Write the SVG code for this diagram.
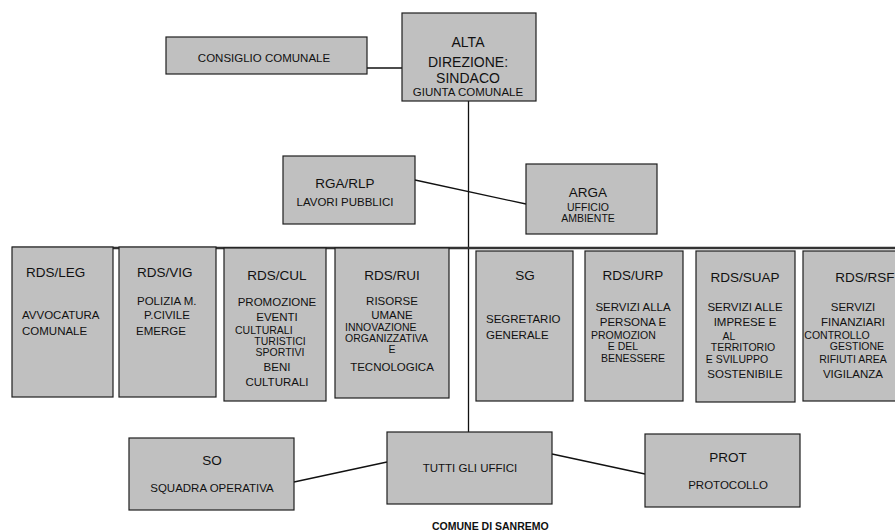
<svg xmlns="http://www.w3.org/2000/svg" width="895" height="532" viewBox="0 0 895 532">
<style>
.box{fill:#c0c0c0;stroke:#1e1e1e;stroke-width:1.2}
text{font-family:"Liberation Sans",Arial,sans-serif;fill:#111}
.t{font-size:13.5px;text-anchor:middle}
.ts{font-size:13.5px}
.b{font-size:11.5px;text-anchor:middle}
.bs{font-size:11.5px}
.c{font-size:10.5px;text-anchor:middle}
.cs{font-size:10.5px}
.ln{stroke:#111;fill:none;stroke-width:1.3}
</style>
<rect width="895" height="532" fill="#fff"/>
<g id="connectors">
<line class="ln" x1="367" y1="68" x2="402" y2="68" stroke-width="3.5"/>
<line class="ln" x1="468.5" y1="101" x2="468.5" y2="432" stroke-width="1.6"/>
<line class="ln" x1="415" y1="180" x2="526" y2="204"/>
<line x1="12" y1="248" x2="895" y2="248" stroke="#333" stroke-width="2.6"/>
<line class="ln" x1="294" y1="482" x2="387" y2="462"/>
<line class="ln" x1="552" y1="454" x2="645" y2="474"/>
</g>
<g id="consiglio">
<rect class="box" x="166" y="37" width="201" height="37"/>
<text class="b" x="264" y="62">CONSIGLIO COMUNALE</text>
</g>
<g id="alta">
<rect class="box" x="402" y="13" width="134" height="88"/>
<text x="468" y="47" font-size="14" text-anchor="middle">ALTA</text>
<text x="468" y="67" font-size="14" text-anchor="middle">DIREZIONE:</text>
<text x="468" y="83" font-size="14" text-anchor="middle">SINDACO</text>
<text class="b" x="468" y="96">GIUNTA COMUNALE</text>
</g>
<g id="rga">
<rect class="box" x="283" y="156" width="132" height="68"/>
<text class="t" x="345" y="188">RGA/RLP</text>
<text class="b" x="345" y="206">LAVORI PUBBLICI</text>
</g>
<g id="arga">
<rect class="box" x="526" y="164" width="131" height="70"/>
<text class="t" x="588" y="197">ARGA</text>
<text class="c" x="588" y="211">UFFICIO</text>
<text class="c" x="588" y="222">AMBIENTE</text>
</g>
<g id="rds-leg">
<rect class="box" x="12" y="247" width="101" height="150"/>
<text class="ts" x="26" y="277">RDS/LEG</text>
<text class="bs" x="22" y="319">AVVOCATURA</text>
<text class="bs" x="22" y="335">COMUNALE</text>
</g>
<g id="rds-vig">
<rect class="box" x="119" y="247" width="97" height="150"/>
<text class="ts" x="137" y="277">RDS/VIG</text>
<text class="bs" x="137" y="305">POLIZIA M.</text>
<text class="bs" x="144" y="319">P.CIVILE</text>
<text class="bs" x="136" y="335">EMERGE</text>
</g>
<g id="rds-cul">
<rect class="box" x="224" y="248" width="102" height="153"/>
<text class="t" x="277" y="280">RDS/CUL</text>
<text class="b" x="277" y="306">PROMOZIONE</text>
<text class="b" x="277" y="321">EVENTI</text>
<text class="cs" x="235" y="334">CULTURALI</text>
<text class="c" x="280" y="345">TURISTICI</text>
<text class="c" x="280" y="356">SPORTIVI</text>
<text class="b" x="277" y="371">BENI</text>
<text class="b" x="277" y="386">CULTURALI</text>
</g>
<g id="rds-rui">
<rect class="box" x="335" y="248" width="114" height="150"/>
<text class="t" x="392" y="280">RDS/RUI</text>
<text class="b" x="392" y="305">RISORSE</text>
<text class="b" x="392" y="319">UMANE</text>
<text class="cs" x="345" y="331">INNOVAZIONE</text>
<text class="cs" x="345" y="342">ORGANIZZATIVA</text>
<text class="c" x="392" y="353">E</text>
<text class="b" x="392" y="371">TECNOLOGICA</text>
</g>
<g id="sg">
<rect class="box" x="476" y="251" width="97" height="150"/>
<text class="t" x="525" y="280">SG</text>
<text class="bs" x="486" y="323">SEGRETARIO</text>
<text class="bs" x="486" y="339">GENERALE</text>
</g>
<g id="rds-urp">
<rect class="box" x="585" y="251" width="98" height="150"/>
<text class="t" x="633" y="280">RDS/URP</text>
<text class="b" x="633" y="311">SERVIZI ALLA</text>
<text class="b" x="633" y="326">PERSONA E</text>
<text class="cs" x="591" y="339">PROMOZION</text>
<text class="c" x="623" y="350">E DEL</text>
<text class="c" x="633" y="362">BENESSERE</text>
</g>
<g id="rds-suap">
<rect class="box" x="696" y="251" width="99" height="151"/>
<text class="t" x="745" y="282">RDS/SUAP</text>
<text class="b" x="745" y="311">SERVIZI ALLE</text>
<text class="b" x="745" y="326">IMPRESE E</text>
<text class="c" x="729" y="340">AL</text>
<text class="c" x="743" y="351">TERRITORIO</text>
<text class="c" x="737" y="363">E SVILUPPO</text>
<text class="b" x="745" y="378">SOSTENIBILE</text>
</g>
<g id="rds-rsf">
<rect class="box" x="803" y="251" width="100" height="150"/>
<text class="t" x="865" y="282">RDS/RSF</text>
<text class="b" x="853" y="311">SERVIZI</text>
<text class="b" x="853" y="326">FINANZIARI</text>
<text class="c" x="837" y="339">CONTROLLO</text>
<text class="c" x="857" y="350">GESTIONE</text>
<text class="c" x="853" y="363">RIFIUTI AREA</text>
<text class="b" x="853" y="378">VIGILANZA</text>
</g>
<g id="so">
<rect class="box" x="129" y="438" width="165" height="72"/>
<text class="t" x="212" y="465">SO</text>
<text class="b" x="212" y="492">SQUADRA OPERATIVA</text>
</g>
<g id="tutti">
<rect class="box" x="387" y="432" width="165" height="72"/>
<text class="b" x="470" y="472">TUTTI GLI UFFICI</text>
</g>
<g id="prot">
<rect class="box" x="645" y="434" width="155" height="73"/>
<text class="t" x="728" y="462">PROT</text>
<text class="b" x="728" y="489">PROTOCOLLO</text>
</g>
<text x="432" y="530" font-size="10.5" font-weight="bold">COMUNE DI SANREMO</text>
</svg>
